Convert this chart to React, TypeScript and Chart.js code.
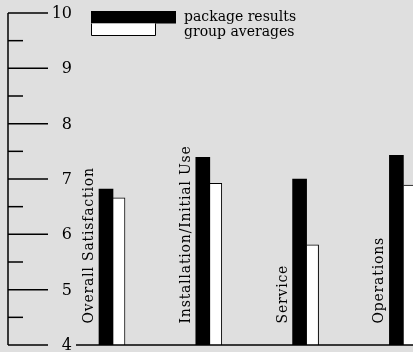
import React, { useEffect, useRef } from "react";
import { Chart, registerables } from "chart.js";

Chart.register(...registerables);

const categories = ["Overall Satisfaction", "Installation/Initial Use", "Service", "Operations"];
const packageResults = [6.82, 7.39, 7.0, 7.43];
const groupAverages = [6.66, 6.92, 5.81, 6.89];
const majorTicks = [4, 5, 6, 7, 8, 9, 10];
const minorTicks = [4.5, 5.5, 6.5, 7.5, 8.5, 9.5];
const legendLabels = ["package results", "group averages"];

const W = 460;
const H = 352;
const FONT = '"DejaVu Serif", serif';

const decorPlugin = {
  id: "decor",
  beforeDraw(chart: any) {
    const ctx = chart.ctx;
    ctx.save();
    ctx.fillStyle = "#dfdfdf";
    ctx.fillRect(0, 0, chart.width, chart.height);
    ctx.restore();
  },
  afterDatasetsDraw(chart: any) {
    const ctx = chart.ctx;
    const y = chart.scales.y;
    const x = chart.scales.x;
    ctx.save();
    ctx.strokeStyle = "#000";
    ctx.fillStyle = "#000";
    ctx.lineWidth = 1.5;
    const top = y.getPixelForValue(10);
    const bottom = y.getPixelForValue(4);
    ctx.beginPath();
    ctx.moveTo(8, top);
    ctx.lineTo(8, bottom);
    ctx.stroke();
    majorTicks.forEach((v) => {
      const py = y.getPixelForValue(v);
      ctx.beginPath();
      ctx.moveTo(8, py);
      ctx.lineTo(48, py);
      ctx.stroke();
    });
    minorTicks.forEach((v) => {
      const py = y.getPixelForValue(v);
      ctx.beginPath();
      ctx.moveTo(8, py);
      ctx.lineTo(23, py);
      ctx.stroke();
    });
    ctx.font = `16px ${FONT}`;
    ctx.textAlign = "right";
    ctx.textBaseline = "middle";
    majorTicks.forEach((v) => {
      ctx.fillText(String(v), 72, y.getPixelForValue(v) + 1);
    });
    ctx.beginPath();
    ctx.moveTo(76, bottom);
    ctx.lineTo(chart.width, bottom);
    ctx.stroke();
    ctx.font = `14px ${FONT}`;
    ctx.textAlign = "left";
    ctx.textBaseline = "alphabetic";
    (ctx as any).letterSpacing = "0.8px";
    categories.forEach((c, i) => {
      const cx = x.getPixelForValue(i);
      ctx.save();
      ctx.translate(cx - 20, 323.5);
      ctx.rotate(-Math.PI / 2);
      ctx.fillText(c, 0, 0);
      ctx.restore();
    });
    (ctx as any).letterSpacing = "0px";
    ctx.fillStyle = "#000";
    ctx.fillRect(91, 11, 85, 12.5);
    ctx.fillStyle = "#fff";
    ctx.fillRect(91, 23.5, 64, 11.5);
    ctx.lineWidth = 1;
    ctx.strokeStyle = "#000";
    ctx.beginPath();
    ctx.moveTo(91.5, 23.5);
    ctx.lineTo(91.5, 35.5);
    ctx.lineTo(155.5, 35.5);
    ctx.lineTo(155.5, 23.5);
    ctx.stroke();
    ctx.fillStyle = "#000";
    ctx.font = `14px ${FONT}`;
    ctx.textAlign = "left";
    ctx.fillText(legendLabels[0], 184, 20.5);
    ctx.fillText(legendLabels[1], 184, 35.5);
    ctx.restore();
  },
};

export default function App() {
  const ref = useRef<HTMLCanvasElement | null>(null);
  useEffect(() => {
    if (!ref.current) return;
    const chart = new Chart(ref.current, {
      type: "bar",
      data: {
        labels: categories,
        datasets: [
          {
            label: legendLabels[0],
            data: packageResults,
            backgroundColor: "#000",
            borderWidth: 0,
            barThickness: 14,
          },
          {
            label: legendLabels[1],
            data: groupAverages,
            backgroundColor: "#fff",
            borderColor: "#000",
            borderWidth: { top: 1, right: 1, left: 0, bottom: 0 },
            barThickness: 12,
          },
        ],
      },
      options: {
        responsive: false,
        animation: false,
        devicePixelRatio: 1,
        layout: { padding: { left: 64.6, right: W - 451.8, top: 13, bottom: H - 345 } },
        plugins: { legend: { display: false }, tooltip: { enabled: false } },
        scales: {
          x: { type: "category", display: false, offset: true, grid: { display: false } },
          y: { type: "linear", display: false, min: 4, max: 10 },
        },
      },
      plugins: [decorPlugin],
    });
    return () => chart.destroy();
  }, []);
  return (
    <div style={{ position: "fixed", left: 0, top: 0, width: 413, height: 352, overflow: "hidden" }}>
      <canvas ref={ref} width={W} height={H} style={{ width: W, height: H, display: "block" }} />
    </div>
  );
}
